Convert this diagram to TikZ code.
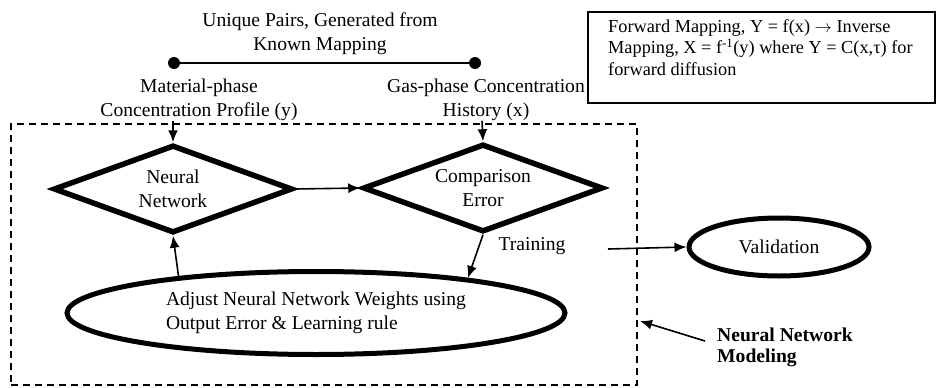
\documentclass[tikz,border=0pt]{standalone}
\usepackage{fontspec}
\setmainfont{Liberation Serif}
\usetikzlibrary{shapes.geometric,arrows.meta}
\begin{document}
\begin{tikzpicture}[x=1pt,y=-1pt,
  every node/.style={font=\fontsize{19.6}{23.5}\selectfont, inner sep=0pt},
  txt/.style={align=center},
  dia/.style={draw, diamond, line width=5.5pt, aspect=2.7, align=center, line join=miter},
  ell/.style={draw, ellipse, line width=5pt},
  conn/.style={line width=1.6pt, -{Latex[length=12pt,width=10pt]}},
  dot/.style={circle, fill=black, minimum size=12pt},
  dashbox/.style={draw, dash pattern=on 7pt off 5pt, line width=1.4pt}
]
\useasboundingbox (0,0) rectangle (951,388);

% top pairs
\node[txt] (pairs) at (320,33.5) {Unique Pairs, Generated from\\Known Mapping};
\node[dot] (d1) at (174,63) {};
\node[dot] (d2) at (475,63) {};
\draw[line width=2pt] (d1) -- (d2);
\node[txt] (mat) at (199,100) {Material-phase\\Concentration Profile (y)};
\node[txt] (gas) at (486,100) {Gas-phase Concentration\\History (x)};

% info box
\node[draw, line width=1.4pt, minimum width=347pt, minimum height=91pt] (fbox) at (761.5,57.5) {};
\node[anchor=north west, align=left, font=\fontsize{18.3}{21.5}\selectfont] (ftext) at (608,19)
  {Forward Mapping, Y = f(x) $\rightarrow$ Inverse\\Mapping, X = f\textsuperscript{-1}(y) where Y = C(x,τ) for\\forward diffusion};

% dashed modelling box
\node[dashbox, minimum width=626pt, minimum height=261pt] (nnm) at (324,254.5) {};

% diamonds
\node[dia, minimum width=239pt, minimum height=88pt] (nn) at (173,189) {Neural\\Network};
\node[dia, minimum width=240pt, minimum height=88pt] (ce) at (483,188) {Comparison\\Error};

% ellipses
\node[ell, minimum width=498pt, minimum height=83pt, align=left] (adj) at (316,313)
  {Adjust Neural Network Weights using\\Output Error \& Learning rule\hspace*{0pt}};
\node[ell, minimum width=180pt, minimum height=58pt] (val) at (779,247) {Validation};

% labels
\node (train) at (532,246) {Training};
\node[anchor=west, align=left, font=\fontsize{19.6}{21.5}\bfseries\selectfont] (model) at (717,347.5) {Neural Network\\Modeling};

% connectors
\draw[conn] (mat.south -| 173,0) -- (nn.north);
\draw[conn] (gas.south -| 482,0) -- (ce.north);
\draw[conn] (nn.east) -- (ce.west);
\draw[conn] (ce.south) -- (adj.13);
\draw[conn] (adj.165) -- (nn.south);
\coordinate (tstart) at (608,249);
\draw[conn] (tstart) -- (val.west);
\coordinate (mstart) at (705,341);
\coordinate (mend) at (640,321);
\draw[conn] (mstart) -- (mend);
\end{tikzpicture}
\end{document}
